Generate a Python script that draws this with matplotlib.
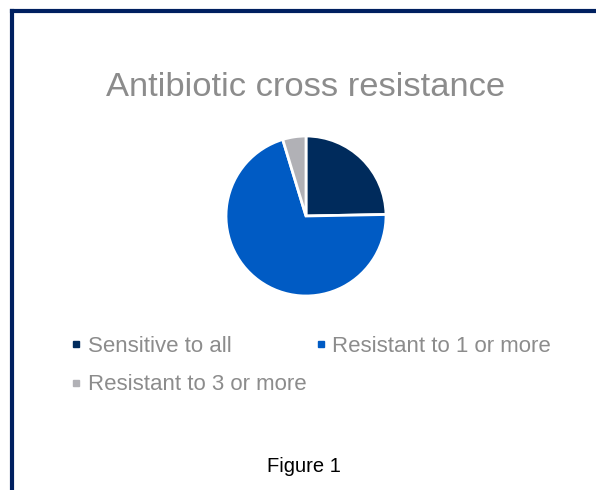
import matplotlib.pyplot as plt
from matplotlib.lines import Line2D

plt.rcParams['font.family'] = ['Liberation Sans', 'DejaVu Sans']

# data (share of isolates, %)
labels = ['Sensitive to all', 'Resistant to 1 or more', 'Resistant to 3 or more']
values = [24.7, 70.6, 4.7]
colors = ['#002b5c', '#005bc4', '#b1b1b6']

W, H = 596, 490
fig = plt.figure(figsize=(W / 100, H / 100), dpi=100)

# frame: top and left only
fig.add_artist(Line2D([12 / W, 1], [1 - 11 / H, 1 - 11 / H], color='#002060', lw=3, transform=fig.transFigure))
fig.add_artist(Line2D([12 / W, 12 / W], [0, 1 - 11 / H], color='#002060', lw=3, transform=fig.transFigure))

# pie, center (306, 216) px, radius 80 px
cx, cy, r = 306, 216, 80
ax = fig.add_axes([(cx - r) / W, (H - cy - r) / H, 2 * r / W, 2 * r / H])
ax.pie(values, colors=colors, startangle=90, counterclock=False,
       wedgeprops=dict(edgecolor='white', linewidth=2))
ax.set_xlim(-1, 1)
ax.set_ylim(-1, 1)
ax.set_aspect('equal')

fig.text(306 / W, 1 - 88 / H, 'Antibiotic cross resistance', ha='center', va='center',
         fontsize=24.8, color='#8c8c8c')

# legend, row-major order like the original
handles = [Line2D([], [], ls='', marker='s', markersize=5, color=c) for c in colors]
order = [0, 2, 1]
fig.legend([handles[i] for i in order], [labels[i] for i in order],
           loc='upper left', bbox_to_anchor=(72 / W, 1 - 336 / H), ncol=2,
           frameon=False, fontsize=16, labelcolor='#8c8c8c',
           handlelength=0.4, handletextpad=0.3, columnspacing=0.45,
           labelspacing=0.78, borderpad=0, borderaxespad=0)

fig.text(304 / W, 1 - 466 / H, 'Figure 1', ha='center', va='center', fontsize=14.5, color='black')

fig.savefig('out.png', dpi=100)
